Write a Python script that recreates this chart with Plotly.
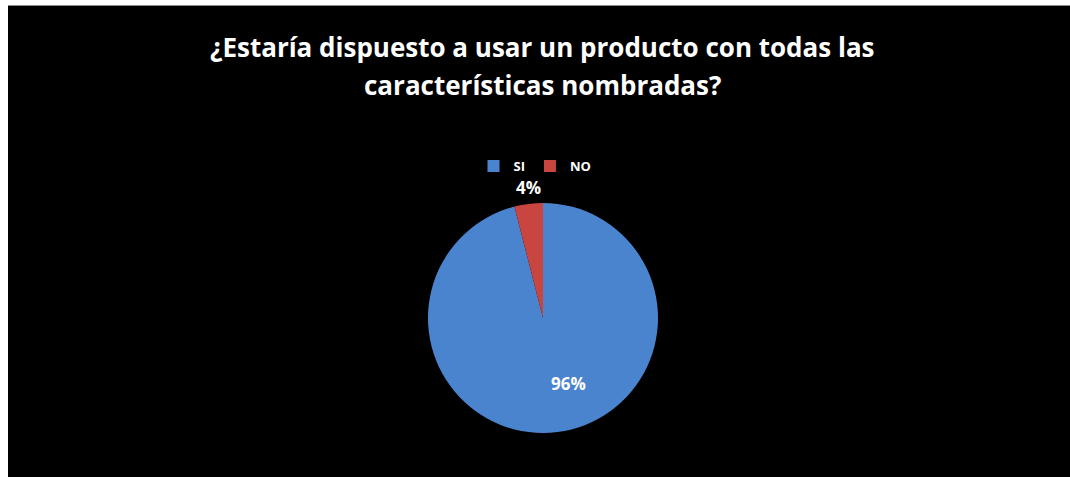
import plotly.graph_objects as go

# Survey answers and their shares
categories = ["SI", "NO"]
shares = [96, 4]
slice_colors = ["#4a84cf", "#c8463f"]

title_lines = [
    "¿Estaría dispuesto a usar un producto con todas las",
    "características nombradas?",
]

W, H = 1070, 477
FONT = "Open Sans"
label_font = dict(family=FONT, size=17, color="white", weight="bold")

fig = go.Figure(
    go.Pie(
        labels=categories,
        values=shares,
        sort=False,
        direction="clockwise",
        rotation=0,
        marker=dict(colors=slice_colors, line=dict(width=0)),
        textinfo="none",
        showlegend=True,
        domain=dict(x=[16 / W, 1], y=[(H - 433) / H, (H - 203) / H]),
    )
)

# percentage labels: large slice inside lower-right, small slice just above its tip
label_spots = [(568, 397), (528, 187)]
for share, (px, py) in zip(shares, label_spots):
    fig.add_annotation(
        text=f"{share}%",
        xref="paper", yref="paper",
        x=px / W, y=1 - py / H,
        showarrow=False,
        font=label_font,
    )

# two-line heading
for line, py in zip(title_lines, [47, 85]):
    fig.add_annotation(
        text=line,
        xref="paper", yref="paper",
        x=542 / W, y=1 - py / H,
        xanchor="center", yanchor="middle",
        showarrow=False,
        font=dict(family=FONT, size=26, color="white", weight="bold"),
    )

fig.update_layout(
    width=W,
    height=H,
    autosize=False,
    margin=dict(l=0, r=0, t=0, b=0, pad=0),
    paper_bgcolor="black",
    shapes=[
        # white frame strips on the left and top edges
        dict(type="rect", xref="paper", yref="paper",
             x0=0, x1=8 / W, y0=0, y1=1,
             fillcolor="white", line=dict(width=0), layer="above"),
        dict(type="rect", xref="paper", yref="paper",
             x0=0, x1=1, y0=1 - 5 / H, y1=1,
             fillcolor="white", line=dict(width=0), layer="above"),
        dict(type="line", xref="paper", yref="paper",
             x0=8 / W, x1=1, y0=1 - 5.5 / H, y1=1 - 5.5 / H,
             line=dict(color="#8a8a8a", width=1), layer="above"),
    ],
    legend=dict(
        orientation="h",
        x=0.5, xanchor="center",
        y=1 - 166 / H, yanchor="middle",
        font=dict(family=FONT, size=13, color="white", weight="bold"),
        bgcolor="rgba(0,0,0,0)",
        itemwidth=30,
    ),
)

# page around the figure: no scrollbars, dark background
page_style = (
    "document.documentElement.style.background='black';"
    "document.body.style.background='black';"
    "document.body.style.margin='0';"
    "document.body.style.overflow='hidden';"
)

fig.write_html("out.html", config={"responsive": False}, post_script=page_style)
